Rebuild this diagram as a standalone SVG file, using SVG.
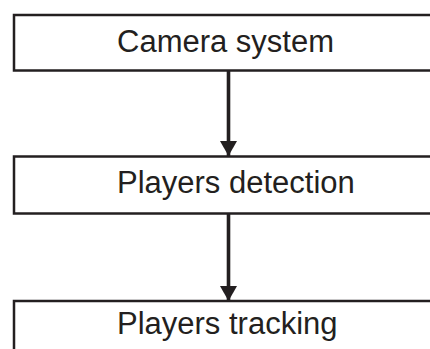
<svg xmlns="http://www.w3.org/2000/svg" width="430" height="349" viewBox="0 0 430 349">
  <style>
    .box { fill: #ffffff; stroke: #231f20; stroke-width: 2.5; }
    .label { font-family: "Liberation Sans", Arial, sans-serif; font-size: 31px; fill: #231f20; }
    .edge { stroke: #231f20; stroke-width: 3.6; fill: none; }
  </style>
  <defs>
    <marker id="arrow" markerUnits="userSpaceOnUse" markerWidth="15" markerHeight="17" refX="15" refY="8.5" orient="auto">
      <path d="M0,0 L15,8.5 L0,17 Z" fill="#231f20"/>
    </marker>
  </defs>
  <rect width="430" height="349" fill="#ffffff"/>
  <g id="connectors">
    <line class="edge" x1="228.5" y1="71" x2="228.5" y2="156" marker-end="url(#arrow)"/>
    <line class="edge" x1="228.5" y1="214" x2="228.5" y2="301" marker-end="url(#arrow)"/>
  </g>
  <g id="camera-system">
    <rect class="box" x="14" y="15" width="500" height="55.5"/>
    <text class="label" x="117" y="52">Camera system</text>
  </g>
  <g id="players-detection">
    <rect class="box" x="14" y="156.5" width="500" height="57"/>
    <text class="label" x="117" y="193">Players detection</text>
  </g>
  <g id="players-tracking">
    <rect class="box" x="14" y="301" width="500" height="100"/>
    <text class="label" x="117" y="334">Players tracking</text>
  </g>
</svg>
